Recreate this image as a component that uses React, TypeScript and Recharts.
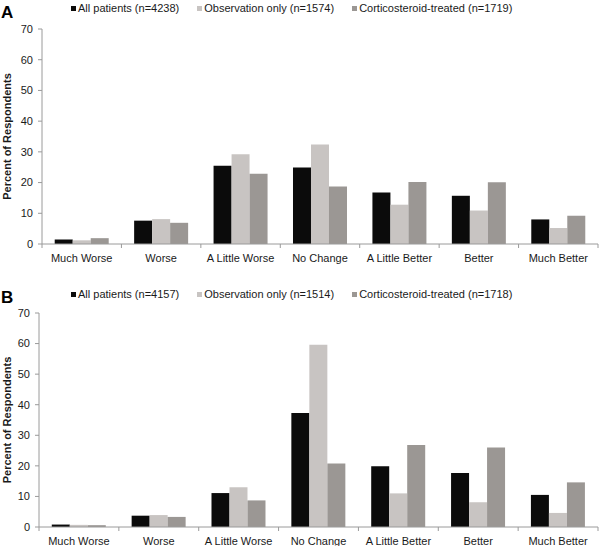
import React from 'react';
import { BarChart, Bar, XAxis, YAxis } from 'recharts';

const categories = ['Much Worse', 'Worse', 'A Little Worse', 'No Change', 'A Little Better', 'Better', 'Much Better'];
const yTicks = [0, 10, 20, 30, 40, 50, 60, 70];

// panel A
const allA = [1.5, 7.6, 25.5, 24.9, 16.8, 15.7, 8.0];
const obsA = [1.2, 8.1, 29.2, 32.4, 12.8, 10.9, 5.2];
const corA = [1.9, 6.9, 22.9, 18.7, 20.2, 20.1, 9.2];
const namesA = ['All patients (n=4238)', 'Observation only (n=1574)', 'Corticosteroid-treated (n=1719)'];

// panel B
const allB = [0.8, 3.7, 11.1, 37.3, 19.9, 17.7, 10.5];
const obsB = [0.7, 3.9, 13.0, 59.6, 11.0, 8.1, 4.6];
const corB = [0.6, 3.3, 8.7, 20.8, 26.8, 26.0, 14.6];
const namesB = ['All patients (n=4157)', 'Observation only (n=1514)', 'Corticosteroid-treated (n=1718)'];

const colors = ['#0b0b0b', '#c8c4c2', '#9b9794'];
const font = '"Liberation Sans", Arial, sans-serif';
const textColor = '#1a1a1a';
const axisColor = '#9a9a9a';

const buildRows = (a: number[], o: number[], c: number[]) =>
  categories.map((cat, i) => ({ cat, all: a[i], obs: o[i], cor: c[i] }));

const CatTick = (props: any) => {
  const { x, y, payload, index, visibleTicksCount } = props;
  const off = payload?.offset ?? 39.7;
  return (
    <g>
      <line x1={x - off} y1={y} x2={x - off} y2={y + 4} stroke={axisColor} />
      {index === visibleTicksCount - 1 && <line x1={x + off} y1={y} x2={x + off} y2={y + 4} stroke={axisColor} />}
      <text x={x} y={y + 18} textAnchor="middle" fontSize={11} fill={textColor} fontFamily={font}>
        {payload.value}
      </text>
    </g>
  );
};

const YTitle = (props: any) => {
  const vb = props.viewBox || {};
  const cy = vb.y + vb.height / 2;
  return (
    <text x={10.5} y={cy} transform={`rotate(-90, 10.5, ${cy})`} textAnchor="middle" fontSize={11} fontWeight="bold" fill={textColor} fontFamily={font}>
      Percent of Respondents
    </text>
  );
};

const LegendRow = ({ names, top }: { names: string[]; top: number }) => (
  <div style={{ position: 'absolute', top, left: 71, display: 'flex', gap: 18, fontSize: 11, lineHeight: '12px', color: textColor, fontFamily: font, whiteSpace: 'nowrap' }}>
    {names.map((n, i) => (
      <div key={n} style={{ display: 'flex', alignItems: 'center' }}>
        <span style={{ display: 'inline-block', width: 5, height: 5, background: colors[i], marginRight: 2 }} />
        {n}
      </div>
    ))}
  </div>
);

const Panel = ({ rows, names, top, mTop, xH, yW, letter }: any) => (
  <div style={{ position: 'absolute', top, left: 0, width: 600, height: 273 }}>
    <div style={{ position: 'absolute', left: 1, top: mTop === 29 ? 3.6 : 15.6, fontSize: 17, lineHeight: '17px', fontWeight: 'bold', fontFamily: font, color: '#000' }}>
      {letter}
    </div>
    <LegendRow names={names} top={mTop === 29 ? 2 : 15} />
    <BarChart width={600} height={273} data={rows} margin={{ top: mTop, right: 2, left: 0, bottom: 273 - mTop - xH - (mTop === 29 ? 215 : 214) }} barCategoryGap="16%" barGap={0}>
      <XAxis dataKey="cat" height={xH} tickLine={false} tickSize={0} tickMargin={0} interval={0} stroke={axisColor} tick={<CatTick />} />
      <YAxis
        width={yW}
        domain={[0, 70]}
        ticks={yTicks}
        interval={0}
        tickSize={4}
        tickMargin={5}
        stroke={axisColor}
        tick={{ fontSize: 11, fill: textColor, fontFamily: font }}
        label={{ content: <YTitle /> }}
      />
      <Bar dataKey="all" name={names[0]} fill={colors[0]} isAnimationActive={false} />
      <Bar dataKey="obs" name={names[1]} fill={colors[1]} isAnimationActive={false} />
      <Bar dataKey="cor" name={names[2]} fill={colors[2]} isAnimationActive={false} />
    </BarChart>
  </div>
);

export default function App() {
  return (
    <div style={{ position: 'absolute', left: 0, top: 0, width: 600, height: 546, background: '#fff', overflow: 'hidden' }}>
      <Panel rows={buildRows(allA, obsA, corA)} names={namesA} top={0} mTop={29} xH={25} yW={42} letter="A" />
      <Panel rows={buildRows(allB, obsB, corB)} names={namesB} top={273} mTop={40} xH={19} yW={39} letter="B" />
    </div>
  );
}
